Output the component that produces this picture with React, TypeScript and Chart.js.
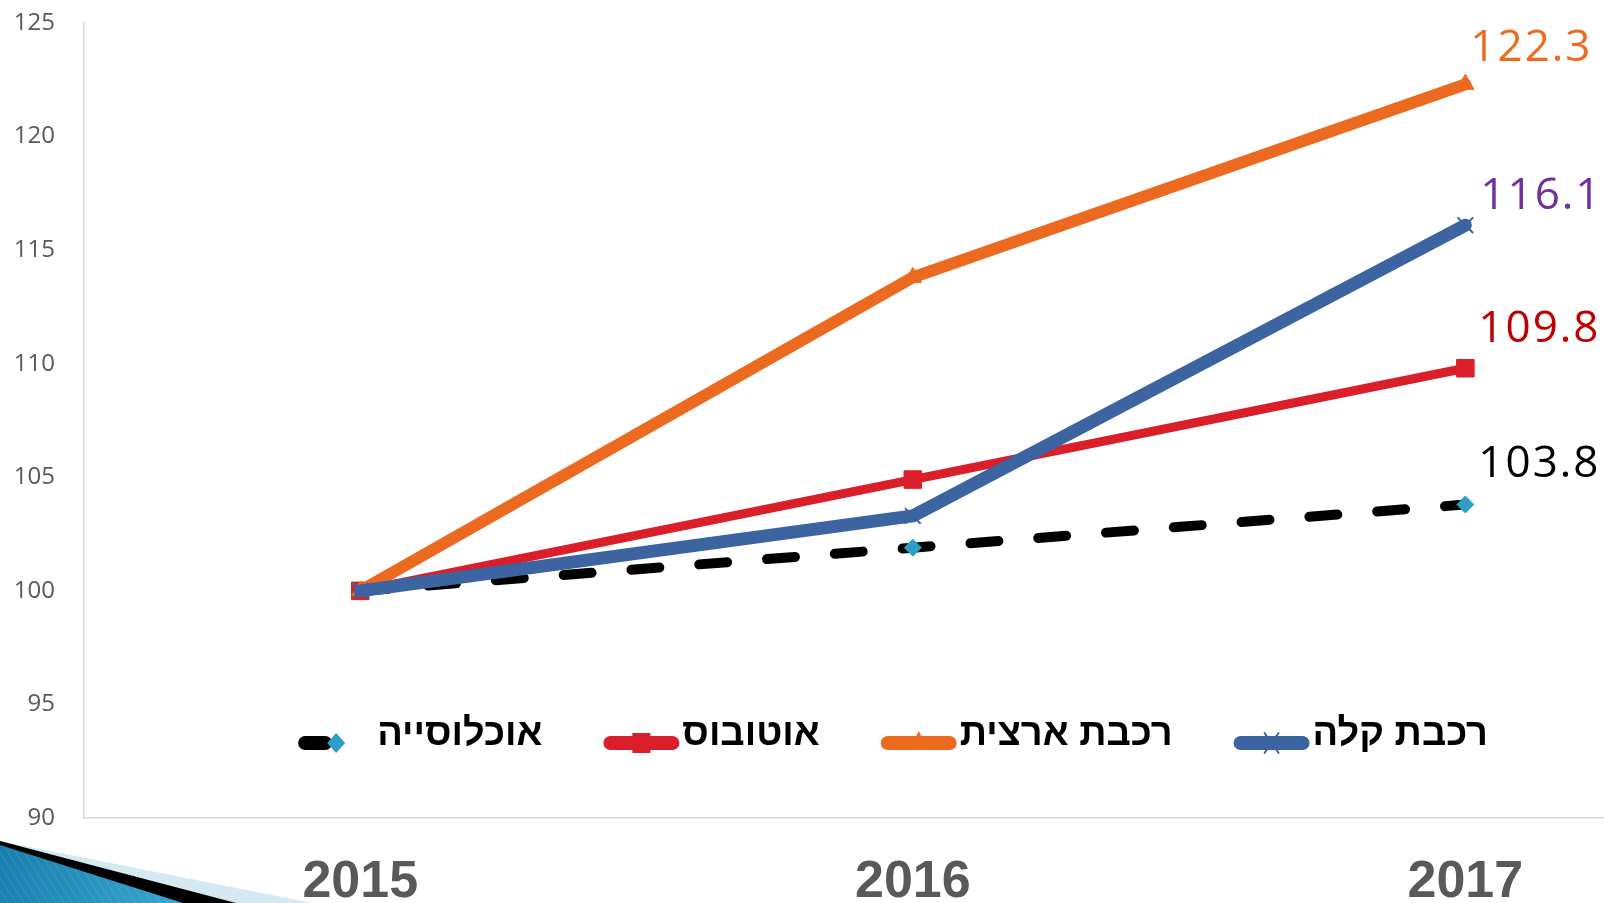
import React, { useEffect, useRef } from "react";
import { Chart, registerables } from "chart.js";

Chart.register(...registerables);

// ---- data ----
const years = ["2015", "2016", "2017"];
const lightRailValues = [100, 103.3, 116.1]; // רכבת קלה
const trainValues = [100, 113.8, 122.3]; // רכבת ארצית
const busValues = [100, 104.9, 109.8]; // אוטובוס
const populationValues = [100, 101.9, 103.8]; // אוכלוסייה
const seriesLabels = ["רכבת קלה", "רכבת ארצית", "אוטובוס", "אוכלוסייה"];
const yTickValues = [90, 95, 100, 105, 110, 115, 120, 125];

// ---- layout ----
const W = 1755;
const H = 903;
const AXIS_LEFT = 84;
const PLOT_TOP = 23;
const PLOT_BOTTOM = 818;

const decoPlugin = {
  id: "deco",
  beforeDraw(chart: any) {
    const ctx = chart.ctx;
    const h = chart.height;
    ctx.save();
    ctx.fillStyle = "#ffffff";
    ctx.fillRect(0, 0, chart.width, h);
    ctx.fillStyle = "#D4E9F2";
    ctx.beginPath();
    ctx.moveTo(0, 841);
    ctx.lineTo(312, h);
    ctx.lineTo(0, h);
    ctx.closePath();
    ctx.fill();
    ctx.fillStyle = "#000000";
    ctx.beginPath();
    ctx.moveTo(0, 841);
    ctx.lineTo(236, h);
    ctx.lineTo(0, h);
    ctx.closePath();
    ctx.fill();
    const g = ctx.createLinearGradient(0, 845, 180, h);
    g.addColorStop(0, "#177EAE");
    g.addColorStop(1, "#38A6CF");
    ctx.fillStyle = g;
    ctx.beginPath();
    ctx.moveTo(0, 845);
    ctx.lineTo(183, h);
    ctx.lineTo(0, h);
    ctx.closePath();
    ctx.fill();
    ctx.clip();
    ctx.strokeStyle = "rgba(255,255,255,0.13)";
    ctx.lineWidth = 1;
    for (let x = -120; x < 260; x += 8) {
      ctx.beginPath();
      ctx.moveTo(x, 840);
      ctx.lineTo(x + 40, h);
      ctx.stroke();
    }
    ctx.restore();
  },
};

const valueLabelPlugin = {
  id: "valueLabels",
  afterDatasetsDraw(chart: any) {
    const ctx = chart.ctx;
    ctx.save();
    ctx.font = '44px "Open Sans", "DejaVu Sans", sans-serif';
    try {
      ctx.letterSpacing = "2px";
    } catch (e) {}
    ctx.textAlign = "left";
    ctx.textBaseline = "alphabetic";
    chart.data.datasets.forEach((ds: any, i: number) => {
      const meta = chart.getDatasetMeta(i);
      const last = meta.data.length - 1;
      const el = meta.data[last];
      const v = ds.data[last];
      ctx.fillStyle = ds.valueLabelColor;
      ctx.fillText(Number(v).toFixed(1), el.x + ds.valueLabelDx, el.y + ds.valueLabelDy);
    });
    ctx.restore();
  },
};

function drawMarker(ctx: any, style: string, x: number, y: number, color: string) {
  ctx.save();
  ctx.fillStyle = color;
  ctx.strokeStyle = color;
  ctx.lineWidth = 2;
  ctx.beginPath();
  if (style === "rect") {
    ctx.fillRect(x - 9, y - 10, 18, 20);
  } else if (style === "triangle") {
    ctx.moveTo(x, y - 12);
    ctx.lineTo(x + 9, y + 6);
    ctx.lineTo(x - 9, y + 6);
    ctx.closePath();
    ctx.fill();
  } else if (style === "crossRot") {
    ctx.moveTo(x - 7, y - 10);
    ctx.lineTo(x + 7, y + 10);
    ctx.moveTo(x + 7, y - 10);
    ctx.lineTo(x - 7, y + 10);
    ctx.stroke();
  } else if (style === "rectRot") {
    ctx.moveTo(x, y - 10);
    ctx.lineTo(x + 9, y);
    ctx.lineTo(x, y + 10);
    ctx.lineTo(x - 9, y);
    ctx.closePath();
    ctx.fill();
  }
  ctx.restore();
}

const legendPlugin = {
  id: "inlineLegend",
  afterDraw(chart: any) {
    const ctx = chart.ctx;
    ctx.save();
    ctx.font = 'bold 38px "Liberation Sans", Arial, "DejaVu Sans", sans-serif';
    ctx.textAlign = "right";
    ctx.textBaseline = "alphabetic";
    const textY = 745;
    const lineY = 743;
    let cur = 1488;
    chart.data.datasets.forEach((ds: any) => {
      const tw = ctx.measureText(ds.label).width;
      ctx.fillStyle = "#000000";
      ctx.fillText(ds.label, cur, textY);
      const mr = cur - tw - 3;
      const ml = mr - 76;
      const mc = (ml + mr) / 2;
      ctx.strokeStyle = ds.borderColor;
      ctx.lineWidth = 14;
      ctx.lineCap = "round";
      ctx.beginPath();
      if (ds.borderDash) {
        ctx.moveTo(ml + 7, lineY);
        ctx.lineTo(ml + 27, lineY);
      } else {
        ctx.moveTo(ml + 7, lineY);
        ctx.lineTo(mr - 7, lineY);
      }
      ctx.stroke();
      drawMarker(ctx, ds.pointStyle, mc, lineY, ds.pointBackgroundColor);
      cur = ml - 61;
    });
    ctx.restore();
  },
};

export default function App() {
  const ref = useRef<HTMLCanvasElement | null>(null);

  useEffect(() => {
    if (!ref.current) return;
    const chart = new Chart(ref.current, {
      type: "line",
      data: {
        labels: years,
        datasets: [
          {
            label: seriesLabels[0],
            data: lightRailValues,
            borderColor: "#3B64A0",
            backgroundColor: "#3B64A0",
            borderWidth: 13,
            borderCapStyle: "round",
            borderJoinStyle: "round",
            pointStyle: "crossRot",
            pointRadius: 11,
            pointBorderWidth: 2,
            pointBorderColor: "#3B64A0",
            pointBackgroundColor: "#3B64A0",
            tension: 0,
            valueLabelColor: "#7030A0",
            valueLabelDx: 15,
            valueLabelDy: -16,
          } as any,
          {
            label: seriesLabels[1],
            data: trainValues,
            borderColor: "#EC6A1F",
            backgroundColor: "#EC6A1F",
            borderWidth: 12,
            borderCapStyle: "round",
            borderJoinStyle: "round",
            pointStyle: "triangle",
            pointRadius: 10,
            pointBorderWidth: 1,
            pointBorderColor: "#EC6A1F",
            pointBackgroundColor: "#EC6A1F",
            tension: 0,
            valueLabelColor: "#ED6B21",
            valueLabelDx: 5,
            valueLabelDy: -23,
          } as any,
          {
            label: seriesLabels[2],
            data: busValues,
            borderColor: "#DA1F2B",
            backgroundColor: "#DA1F2B",
            borderWidth: 9,
            borderCapStyle: "round",
            borderJoinStyle: "round",
            pointStyle: "rect",
            pointRadius: 12.4,
            pointBorderWidth: 1,
            pointBorderColor: "#DA1F2B",
            pointBackgroundColor: "#DA1F2B",
            tension: 0,
            valueLabelColor: "#C00000",
            valueLabelDx: 13,
            valueLabelDy: -26,
          } as any,
          {
            label: seriesLabels[3],
            data: populationValues,
            borderColor: "#000000",
            backgroundColor: "#000000",
            borderWidth: 10,
            borderDash: [28, 40],
            borderCapStyle: "round",
            pointStyle: "rectRot",
            pointRadius: 8.5,
            pointBorderWidth: 1,
            pointBorderColor: "#2E9FC4",
            pointBackgroundColor: "#2E9FC4",
            tension: 0,
            valueLabelColor: "#000000",
            valueLabelDx: 13,
            valueLabelDy: -28,
          } as any,
        ],
      },
      options: {
        responsive: false,
        animation: false,
        devicePixelRatio: 1,
        layout: { padding: { top: PLOT_TOP, left: 0, right: 0, bottom: 0 } },
        plugins: {
          legend: { display: false },
          tooltip: { enabled: false },
        },
        scales: {
          x: {
            type: "category",
            offset: true,
            grid: { display: false, drawTicks: false },
            border: { display: true, color: "#D9D9D9", width: 1.5 },
            ticks: {
              padding: 33,
              color: "#595959",
              font: { family: '"Liberation Sans", Arial, sans-serif', size: 52, weight: "bold" },
              maxRotation: 0,
              autoSkip: false,
            },
            afterFit: (s: any) => {
              s.height = H - PLOT_BOTTOM;
              s.paddingLeft = 0;
              s.paddingRight = 0;
            },
          },
          y: {
            type: "linear",
            min: 90,
            max: 125,
            grid: { display: false, drawTicks: false },
            border: { display: true, color: "#D9D9D9", width: 1.5 },
            ticks: {
              padding: 29,
              color: "#595959",
              font: { family: '"Open Sans", "DejaVu Sans", sans-serif', size: 24 },
            },
            afterBuildTicks: (s: any) => {
              s.ticks = yTickValues.map((v) => ({ value: v }));
            },
            afterFit: (s: any) => {
              s.width = AXIS_LEFT;
              s.paddingTop = 0;
              s.paddingBottom = 0;
            },
          },
        },
      } as any,
      plugins: [decoPlugin, valueLabelPlugin, legendPlugin],
    });
    return () => chart.destroy();
  }, []);

  return (
    <div
      style={{
        position: "fixed",
        left: 0,
        top: 0,
        width: "100vw",
        height: "100vh",
        overflow: "hidden",
        background: "#ffffff",
      }}
    >
      <canvas
        ref={ref}
        width={W}
        height={H}
        style={{ display: "block", width: W + "px", height: H + "px" }}
      />
    </div>
  );
}
